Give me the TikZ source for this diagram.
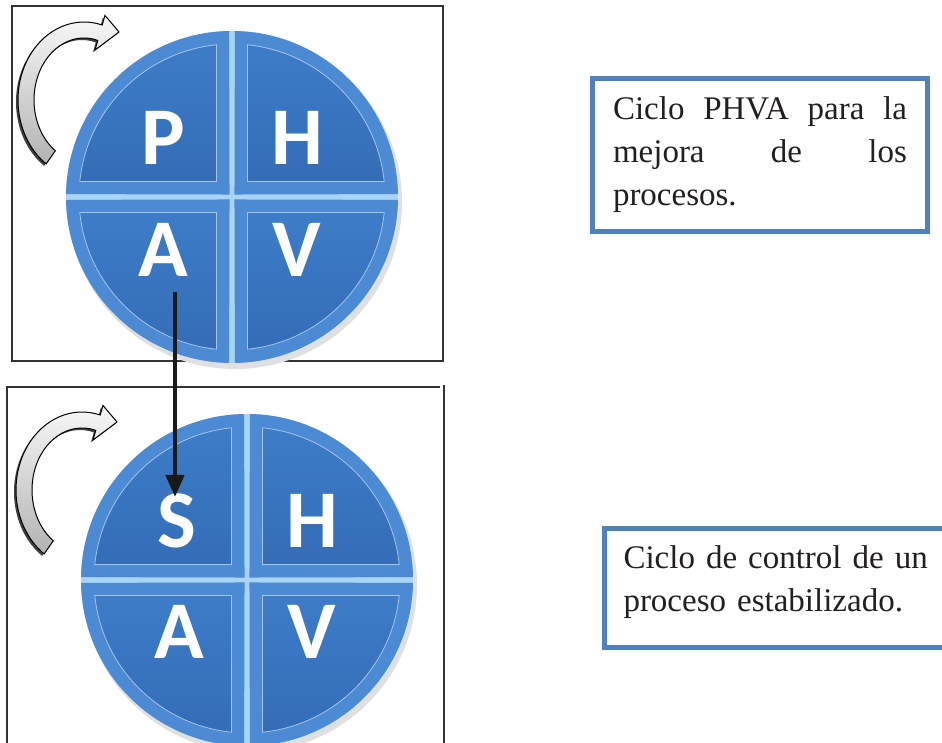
\documentclass[tikz,border=0pt]{standalone}
\usepackage{fontspec}
\setmainfont{Liberation Serif}
\newfontfamily\letterfont{Carlito}
\usetikzlibrary{arrows.meta,calc}

\definecolor{boxblue}{HTML}{4F81BD}
\definecolor{diskblue}{HTML}{3D7CC8}
\definecolor{diskdark}{HTML}{346DB6}
\definecolor{rimblue}{HTML}{4C8AD4}
\definecolor{gapblue}{HTML}{A8D4F6}
\definecolor{notetext}{HTML}{231F20}

\tikzset{
  frame/.style={draw=black!80, line width=1.1pt},
  quadrim/.style={fill=rimblue},
  quadface/.style={top color=diskblue, bottom color=diskdark, draw=rimblue!50!white, line width=0.8pt},
  letter/.style={text=white, anchor=base, font={\letterfont\bfseries\fontsize{82}{82}\selectfont}},
  notebox/.style={draw=boxblue, line width=5pt, text=notetext, align=left, font={\fontsize{33}{43}\selectfont}},
  turnarrow/.style={draw=black, line width=1pt, top color=gray!6, bottom color=gray!60},
  flow/.style={line width=4.5pt, draw=black!90, -{Triangle[length=22pt,width=18pt]}},
  turn/.pic={
    \fill[black!75, shift={(-2,-2)}] (235:66 and 78) arc[start angle=235, end angle=74, x radius=66, y radius=78]
      -- (74:76 and 88) -- (35,68) -- (74:40 and 52) -- (74:50 and 62)
      arc[start angle=74, end angle=235, x radius=50, y radius=62] -- cycle;
    \path[turnarrow] (235:66 and 78) arc[start angle=235, end angle=74, x radius=66, y radius=78]
      -- (74:76 and 88) -- (35,68) -- (74:40 and 52) -- (74:50 and 62)
      arc[start angle=74, end angle=235, x radius=50, y radius=62] -- cycle;
  }
}

\begin{document}
\begin{tikzpicture}[x=1pt, y=1pt]

\useasboundingbox (0,0) rectangle (942,742);
\clip (0,0) rectangle (942,742);
\fill[white] (0,0) rectangle (942,742);

% frames
\draw[frame] (12,381) rectangle (443,736);
\draw[frame] (7,-2) -- (7,355) -- (440,355);
\draw[frame] (444,-2) -- (444,357);

% PHVA wheel
\coordinate (phva-c) at (232,545);
\fill[black!12] ($(phva-c)+(3,-5)$) circle[radius=167];
\fill[gapblue] (phva-c) circle[radius=166];
\foreach \a in {0,90,180,270} {
  \fill[quadrim] ($(phva-c)+({\a+45}:3.5)$) -- ($(phva-c)+({\a+1}:166)$)
    arc[start angle=\a+1, end angle=\a+89, radius=166] -- cycle;
  \path[quadface] ($(phva-c)+({\a+45}:21.9)$) -- ($(phva-c)+({\a+5.8}:153)$)
    arc[start angle=\a+5.8, end angle=\a+84.2, radius=153] -- cycle;
}
\node[letter] (p) at (163,577) {P};
\node[letter] (h1) at (297,577) {H};
\node[letter] (a1) at (163,465) {A};
\node[letter] (v1) at (297,465) {V};
\pic at (84,642) {turn};

% SHVA wheel
\coordinate (shva-c) at (247,162);
\fill[black!12] ($(shva-c)+(3,-5)$) circle[radius=167];
\fill[gapblue] (shva-c) circle[radius=166];
\foreach \a in {0,90,180,270} {
  \fill[quadrim] ($(shva-c)+({\a+45}:3.5)$) -- ($(shva-c)+({\a+1}:166)$)
    arc[start angle=\a+1, end angle=\a+89, radius=166] -- cycle;
  \path[quadface] ($(shva-c)+({\a+45}:21.9)$) -- ($(shva-c)+({\a+5.8}:153)$)
    arc[start angle=\a+5.8, end angle=\a+84.2, radius=153] -- cycle;
}
\node[letter] (s) at (177,194) {S};
\node[letter] (h2) at (312,194) {H};
\node[letter] (a2) at (179,84) {A};
\node[letter] (v2) at (312,84) {V};
\pic at (82,252) {turn};

% A -> S
\coordinate (a-out) at (175,450);
\coordinate (s-in) at (175,245);
\draw[flow] (a-out) -- (s-in);

% notes
\node[notebox, minimum width=335pt, minimum height=153pt, text width=294pt]
  (phva-note) at (760,587) {\makebox[294pt][l]{Ciclo\hfill PHVA\hfill para\hfill la}\\
  \makebox[294pt][l]{mejora\hfill de\hfill los}\\ procesos.};

\node[notebox, minimum width=356pt, minimum height=119pt, text width=317pt]
  (shva-note) at (782,154) {Ciclo de control de un\\ proceso estabilizado.\rule[-19pt]{0pt}{19pt}};

\end{tikzpicture}
\end{document}
